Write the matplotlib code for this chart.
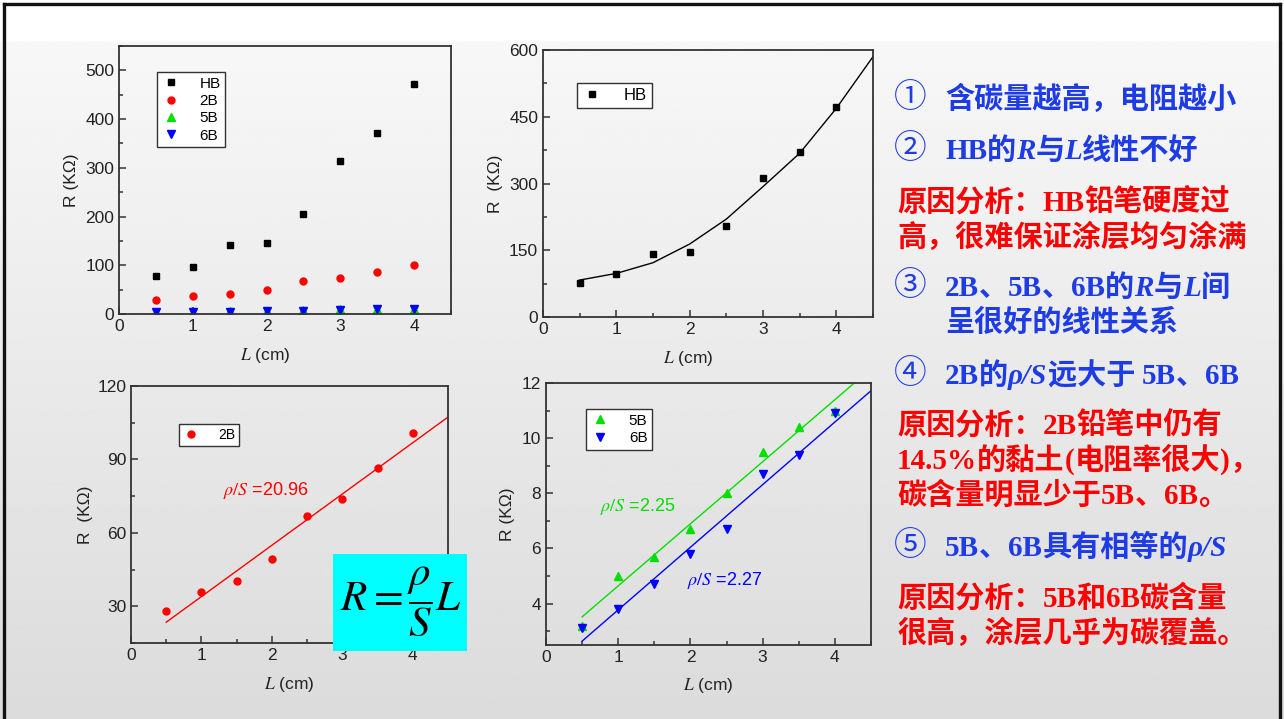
import numpy as np
import matplotlib
matplotlib.use('Agg')
import matplotlib.pyplot as plt
from matplotlib.offsetbox import TextArea, HPacker, AnnotationBbox
from matplotlib.lines import Line2D
from matplotlib.patches import Rectangle
from matplotlib.ticker import MultipleLocator

plt.rcParams['mathtext.fontset'] = 'stix'
plt.rcParams['font.family'] = ['Liberation Sans', 'DejaVu Sans']

# ---------------- data ----------------
L = [0.5, 1, 1.5, 2, 2.5, 3, 3.5, 4]
R_HB = [77, 97, 142, 145, 205, 313, 371, 472]
R_2B = [28, 36, 40.5, 49.5, 67, 74, 86.5, 101]
R_5B = [3.2, 5.0, 5.7, 6.7, 8.0, 9.5, 10.4, 11.0]
R_6B = [3.1, 3.8, 4.7, 5.8, 6.7, 8.7, 9.4, 10.9]

HB_fit_x = [0.5, 1, 1.5, 2, 2.5, 3, 3.5, 4, 4.5]
HB_fit_y = [83, 98, 122, 164, 220, 293, 368, 469, 585]
B2_fit_x = [0.5, 4.5]
B2_fit_y = [23.5, 107.3]
B5_fit_x = [0.5, 4.5]
B5_fit_y = [3.52, 12.52]
B6_fit_x = [0.5, 4.5]
B6_fit_y = [2.64, 11.72]

slope_2B = "20.96"
slope_5B = "2.25"
slope_6B = "2.27"

W, H = 1284, 719
fig = plt.figure(figsize=(W / 100, H / 100), dpi=100)

# background gradient
bg = fig.add_axes([0, 0, 1, 1], zorder=-10)
ys = np.linspace(0, 1, 400)
vals = np.where(ys < 40 / H, 1.0, 0.97 - (ys - 40 / H) / (1 - 40 / H) * (0.97 - 0.86))
grad = np.repeat(vals[:, None], 2, axis=1)
bg.imshow(grad, cmap='gray', vmin=0, vmax=1, aspect='auto', extent=[0, 1, 1, 0])
bg.set_xlim(0, 1); bg.set_ylim(1, 0)
bg.axis('off')

# slide border
for xs, ysl in [([4, 4], [4, H]), ([4, 1280], [4, 4]), ([1280, 1280], [4, H])]:
    fig.add_artist(Line2D([x / W for x in xs], [1 - y / H for y in ysl], color='#111111', lw=2.4))


def px_axes(l, t, r, b):
    return fig.add_axes([l / W, 1 - b / H, (r - l) / W, (b - t) / H])


def style(ax, xminor, yminor):
    ax.set_facecolor('none')
    for s in ax.spines.values():
        s.set_color('#333333')
        s.set_linewidth(1.3)
    ax.tick_params(which='both', direction='in', colors='#333333', labelcolor='#222222',
                   labelsize=12.5, width=1.1)
    ax.tick_params(which='major', length=5)
    ax.tick_params(which='minor', length=3)
    ax.xaxis.set_major_locator(MultipleLocator(1))
    ax.xaxis.set_minor_locator(MultipleLocator(xminor))
    ax.yaxis.set_minor_locator(MultipleLocator(yminor))


def labels(ax, ylab, ycx, xcy, xcx=0.5):
    ax.set_ylabel(ylab, fontsize=12.5, color='#222222')
    ax.set_xlabel(r'$L$ (cm)', fontsize=12.5, color='#222222')
    ax.yaxis.label.set_va('center')
    ax.xaxis.label.set_va('center')
    ax.yaxis.set_label_coords(ycx, 0.5)
    ax.xaxis.set_label_coords(xcx, xcy)


def legend(ax, x0, ytop, fs=11):
    lg = ax.legend(loc='upper left', bbox_to_anchor=(x0, ytop), borderaxespad=0,
                   fontsize=fs, frameon=True, fancybox=False, framealpha=1,
                   edgecolor='#333333', facecolor='white', handlelength=1.2,
                   handletextpad=1.3, labelspacing=0.22, borderpad=0.3)
    lg.get_frame().set_linewidth(1.0)
    return lg


# ---------------- top-left ----------------
ax1 = px_axes(119, 46, 451, 314)
style(ax1, 0.5, 50)
ax1.plot(L, R_HB, 's', color='black', ms=4.5, label='HB')
ax1.plot(L, R_2B, 'o', color='red', ms=5, label='2B')
ax1.plot(L, R_5B, '^', color='#00e000', ms=5.5, label='5B')
ax1.plot(L, R_6B, 'v', color='#0000ff', ms=5.5, label='6B')
ax1.set_xlim(0, 4.5); ax1.set_ylim(0, 550)
ax1.yaxis.set_major_locator(MultipleLocator(100))
labels(ax1, 'R (KΩ)', -0.142, -0.153, 0.44)
legend(ax1, 0.114, 0.903)

# ---------------- top-right ----------------
ax2 = px_axes(543, 50, 873, 317)
style(ax2, 0.5, 75)
ax2.plot(L, R_HB, 's', color='black', ms=4.5, label='HB')
ax2.plot(HB_fit_x, HB_fit_y, '-', color='black', lw=1.0)
ax2.set_xlim(0, 4.5); ax2.set_ylim(0, 600)
ax2.yaxis.set_major_locator(MultipleLocator(150))
labels(ax2, 'R  (KΩ)', -0.145, -0.154, 0.44)
legend(ax2, 0.103, 0.876, fs=12)

# ---------------- bottom-left ----------------
ax3 = px_axes(131, 386, 448, 643)
style(ax3, 0.5, 15)
ax3.plot(L, R_2B, 'o', color='red', ms=5, label='2B')
ax3.plot(B2_fit_x, B2_fit_y, '-', color='red', lw=1.0)
ax3.set_xlim(0, 4.5); ax3.set_ylim(15, 120)
ax3.yaxis.set_major_locator(MultipleLocator(30))
labels(ax3, 'R  (KΩ)', -0.145, -0.163)
legend(ax3, 0.151, 0.852, fs=10)
ax3.text(1.31, 77.4, r'$\rho/S$ =' + slope_2B, color='red', fontsize=13, va='center')

# formula box
fig.add_artist(Rectangle((333 / W, 1 - 651 / H), 134 / W, 97 / H, facecolor='#00ffff',
                         edgecolor='none', zorder=5, transform=fig.transFigure))
fig.text(401 / W, 1 - 602 / H, r'$R=\dfrac{\rho}{S}L$', fontsize=31, ha='center',
         va='center', color='black', zorder=6)

# ---------------- bottom-right ----------------
ax4 = px_axes(546, 383, 871, 645)
style(ax4, 0.5, 1)
ax4.plot(L, R_5B, '^', color='#00e000', ms=5.5, label='5B')
ax4.plot(L, R_6B, 'v', color='#0000ff', ms=5.5, label='6B')
ax4.plot(B5_fit_x, B5_fit_y, '-', color='#00e000', lw=1.0)
ax4.plot(B6_fit_x, B6_fit_y, '-', color='#0000ff', lw=1.0)
ax4.set_xlim(0, 4.5); ax4.set_ylim(2.5, 12)
ax4.yaxis.set_major_locator(MultipleLocator(2))
labels(ax4, 'R (KΩ)', -0.117, -0.156)
legend(ax4, 0.123, 0.90)
ax4.text(0.75, 7.52, r'$\rho/S$ =' + slope_5B, color='#00e000', fontsize=13, va='center')
ax4.text(1.95, 4.84, r'$\rho/S$ =' + slope_6B, color='#0000ff', fontsize=13, va='center')

# ---------------- right-hand text ----------------
BLUE = '#1e3ce6'
RED = '#ff0000'
FS = 21
STY = {
    'c': dict(family=['Noto Sans CJK SC'], weight='bold'),
    'b': dict(family=['Liberation Serif'], weight='bold'),
    'bi': dict(family=['Liberation Serif'], weight='bold', style='italic'),
    'i': dict(family=['Liberation Serif'], weight='bold', style='italic'),
}


def rich(x, y, pieces, color):
    kids = []
    for s, st in pieces:
        props = dict(STY[st])
        props.update(color=color, fontsize=FS)
        kids.append(TextArea(s, textprops=props))
    box = HPacker(children=kids, align='baseline', pad=0, sep=0)
    ab = AnnotationBbox(box, (x / W, 1 - (y + 2) / H), xycoords='figure fraction',
                        box_alignment=(0, 0.5), frameon=False, pad=0)
    fig.add_artist(ab)


def circ(y, s):
    fig.text(894 / W, 1 - (y + 1) / H, s, color=BLUE, fontsize=23.5, va='center', ha='left',
             family=['Noto Sans CJK SC'])


circ(97, '①')
rich(945, 97, [('含碳量越高，电阻越小', 'c')], BLUE)
circ(148, '②')
rich(945, 148, [('HB', 'b'), ('的', 'c'), ('R', 'bi'), ('与', 'c'), ('L', 'bi'), ('线性不好', 'c')], BLUE)
rich(897, 200, [('原因分析：', 'c'), ('HB', 'b'), ('铅笔硬度过', 'c')], RED)
rich(897, 235, [('高，很难保证涂层均匀涂满', 'c')], RED)
circ(285, '③')
rich(945, 285, [('2B', 'b'), ('、', 'c'), ('5B', 'b'), ('、', 'c'), ('6B', 'b'), ('的', 'c'),
                ('R', 'bi'), ('与', 'c'), ('L', 'bi'), ('间', 'c')], BLUE)
rich(945, 320, [('呈很好的线性关系', 'c')], BLUE)
circ(373, '④')
rich(945, 373, [('2B', 'b'), ('的', 'c'), ('ρ/S', 'i'), ('远大于 ', 'c'), ('5B', 'b'), ('、', 'c'),
                ('6B', 'b')], BLUE)
rich(897, 423, [('原因分析：', 'c'), ('2B', 'b'), ('铅笔中仍有', 'c')], RED)
rich(897, 458, [('14.5%', 'b'), ('的黏土', 'c'), ('(', 'b'), ('电阻率很大', 'c'), (')', 'b'),
                ('，', 'c')], RED)
rich(897, 493, [('碳含量明显少于', 'c'), ('5B', 'b'), ('、', 'c'), ('6B', 'b'), ('。', 'c')], RED)
circ(545, '⑤')
rich(945, 545, [('5B', 'b'), ('、', 'c'), ('6B', 'b'), ('具有相等的', 'c'), ('ρ/S', 'i')], BLUE)
rich(897, 596, [('原因分析：', 'c'), ('5B', 'b'), ('和', 'c'), ('6B', 'b'), ('碳含量', 'c')], RED)
rich(897, 631, [('很高，涂层几乎为碳覆盖。', 'c')], RED)

fig.savefig('out.png', dpi=100)
